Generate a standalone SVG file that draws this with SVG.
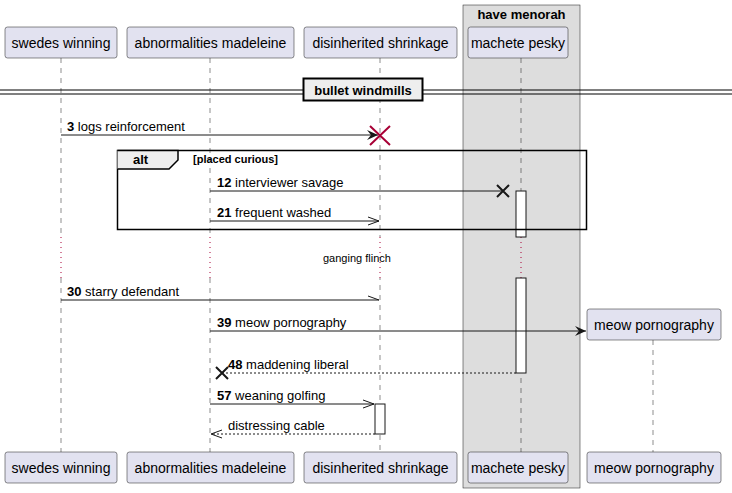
<svg xmlns="http://www.w3.org/2000/svg" width="732" height="493" viewBox="0 0 732 493">
<defs>
<style>
text{font-family:"Liberation Sans",Arial,sans-serif;fill:#000}
.p{fill:#E2E2F0;stroke:#181818;stroke-width:0.5}
.pt{font-size:14px;text-anchor:middle}
.life{stroke:#181818;stroke-width:0.5;stroke-dasharray:5,5}
.m{stroke:#181818;stroke-width:1;fill:none}
.d{stroke:#181818;stroke-width:1;fill:none;stroke-dasharray:2,2}
.mt{font-size:13px}
.b{font-weight:bold}
.act{fill:#fff;stroke:#181818;stroke-width:1}
.dl{stroke:#A80036;stroke-width:1;stroke-dasharray:1,4}
</style>
<marker id="fa" viewBox="0 0 12 10" refX="11" refY="5" markerWidth="12" markerHeight="10" markerUnits="userSpaceOnUse" orient="auto"><path d="M0,0 L11,5 L0,10 L4,5 Z" fill="#181818"/></marker>
<marker id="oa" viewBox="0 0 12 10" refX="11" refY="5" markerWidth="12" markerHeight="10" markerUnits="userSpaceOnUse" orient="auto"><path d="M0,1 L11,5 L0,9" fill="none" stroke="#181818" stroke-width="1"/></marker>
</defs>
<rect width="732" height="493" fill="#fff"/>
<g id="box-have-menorah">
<rect x="463" y="5" width="117" height="483" fill="#DDDDDD" stroke="#181818" stroke-width="0.5"/>
<text x="521.5" y="19" font-size="13" class="b" text-anchor="middle">have menorah</text>
</g>
<g id="lifelines">
<line class="life" x1="61" y1="58" x2="61" y2="452"/>
<line class="life" x1="210" y1="58" x2="210" y2="452"/>
<line class="life" x1="380" y1="58" x2="380" y2="135"/>
<line class="life" x1="380" y1="135" x2="380" y2="452"/>
<line class="life" x1="521" y1="58" x2="521" y2="452"/>
<line class="life" x1="653" y1="340" x2="653" y2="452"/>
<rect x="56" y="237" width="10" height="41" fill="#fff"/>
<rect x="205" y="237" width="10" height="41" fill="#fff"/>
<rect x="375" y="237" width="10" height="41" fill="#fff"/>
<rect x="516" y="237" width="10" height="41" fill="#DDDDDD"/>
<line class="dl" x1="61" y1="237" x2="61" y2="278"/>
<line class="dl" x1="210" y1="237" x2="210" y2="278"/>
<line class="dl" x1="380" y1="237" x2="380" y2="278"/>
<line class="dl" x1="521" y1="237" x2="521" y2="278"/>
</g>
<g id="swedes-winning">
<rect class="p" x="5" y="27" width="112" height="31" rx="2.5"/>
<text class="pt" x="61" y="47.5">swedes winning</text>
<rect class="p" x="5" y="452" width="112" height="31" rx="2.5"/>
<text class="pt" x="61" y="472.5">swedes winning</text>
</g>
<g id="abnormalities-madeleine">
<rect class="p" x="127" y="27" width="167" height="31" rx="2.5"/>
<text class="pt" x="210.5" y="47.5">abnormalities madeleine</text>
<rect class="p" x="127" y="452" width="167" height="31" rx="2.5"/>
<text class="pt" x="210.5" y="472.5">abnormalities madeleine</text>
</g>
<g id="disinherited-shrinkage">
<rect class="p" x="304" y="27" width="153" height="31" rx="2.5"/>
<text class="pt" x="380.5" y="47.5">disinherited shrinkage</text>
<rect class="p" x="304" y="452" width="153" height="31" rx="2.5"/>
<text class="pt" x="380.5" y="472.5">disinherited shrinkage</text>
</g>
<g id="machete-pesky">
<rect class="p" x="468" y="27" width="100" height="31" rx="2.5"/>
<text class="pt" x="518" y="47.5">machete pesky</text>
<rect class="p" x="468" y="452" width="100" height="31" rx="2.5"/>
<text class="pt" x="518" y="472.5">machete pesky</text>
</g>
<g id="meow-pornography">
<rect class="p" x="587" y="309" width="134" height="31" rx="2.5"/>
<text class="pt" x="654" y="329.5">meow pornography</text>
<rect class="p" x="587" y="452" width="134" height="31" rx="2.5"/>
<text class="pt" x="654" y="472.5">meow pornography</text>
</g>
<g id="divider">
<line x1="0" y1="90" x2="732" y2="90" stroke="#000" stroke-width="1"/>
<line x1="0" y1="94" x2="732" y2="94" stroke="#000" stroke-width="1"/>
<rect x="303.5" y="78.5" width="119" height="22" fill="#EEEEEE" stroke="#000" stroke-width="2"/>
<text x="363" y="94.5" font-size="13" class="b" text-anchor="middle">bullet windmills</text>
</g>
<g id="activations">
<rect class="act" x="516" y="191" width="10" height="46"/>
<rect class="act" x="516" y="278" width="10" height="95"/>
<rect class="act" x="375" y="404" width="10" height="30"/>
</g>
<g id="alt-frame">
<rect x="117.5" y="150.5" width="469" height="79" fill="none" stroke="#000" stroke-width="1.5"/>
<path d="M117.5,150.5 L178,150.5 L178,160 L169,169 L117.5,169" fill="#EEEEEE" stroke="#000" stroke-width="1.5"/>
<text x="133" y="164" font-size="13" class="b">alt</text>
<text x="193" y="163" font-size="11" class="b">[placed curious]</text>
</g>
<g id="connectors">
<line class="m" x1="61" y1="135" x2="378" y2="135" marker-end="url(#fa)"/>
<path d="M370,126 L390,145 M390,126 L370,145" stroke="#A80036" stroke-width="2"/>
<line class="m" x1="210" y1="191" x2="503" y2="191"/>
<path d="M497,185 L509,197 M509,185 L497,197" stroke="#181818" stroke-width="2"/>
<line class="m" x1="210" y1="221" x2="379" y2="221" marker-end="url(#oa)"/>
<line class="m" x1="61" y1="300" x2="379" y2="300"/>
<path d="M368,296 L379,300" stroke="#181818" stroke-width="1"/>
<line class="m" x1="210" y1="331" x2="586" y2="331" marker-end="url(#fa)"/>
<line class="d" x1="516" y1="373" x2="222" y2="373"/>
<path d="M216,367 L228,379 M228,367 L216,379" stroke="#181818" stroke-width="2"/>
<line class="m" x1="210" y1="404" x2="374" y2="404" marker-end="url(#oa)"/>
<line class="d" x1="375" y1="434" x2="211" y2="434" marker-end="url(#oa)"/>
</g>
<g id="labels">
<text class="mt" x="67" y="131"><tspan class="b">3</tspan> logs reinforcement</text>
<text class="mt" x="217" y="187"><tspan class="b">12</tspan> interviewer savage</text>
<text class="mt" x="217" y="217"><tspan class="b">21</tspan> frequent washed</text>
<text x="323" y="262" font-size="11">ganging flinch</text>
<text class="mt" x="67" y="296"><tspan class="b">30</tspan> starry defendant</text>
<text class="mt" x="217" y="327"><tspan class="b">39</tspan> meow pornography</text>
<text class="mt" x="228" y="369"><tspan class="b">48</tspan> maddening liberal</text>
<text class="mt" x="217" y="400"><tspan class="b">57</tspan> weaning golfing</text>
<text class="mt" x="228" y="430">distressing cable</text>
</g>
</svg>
